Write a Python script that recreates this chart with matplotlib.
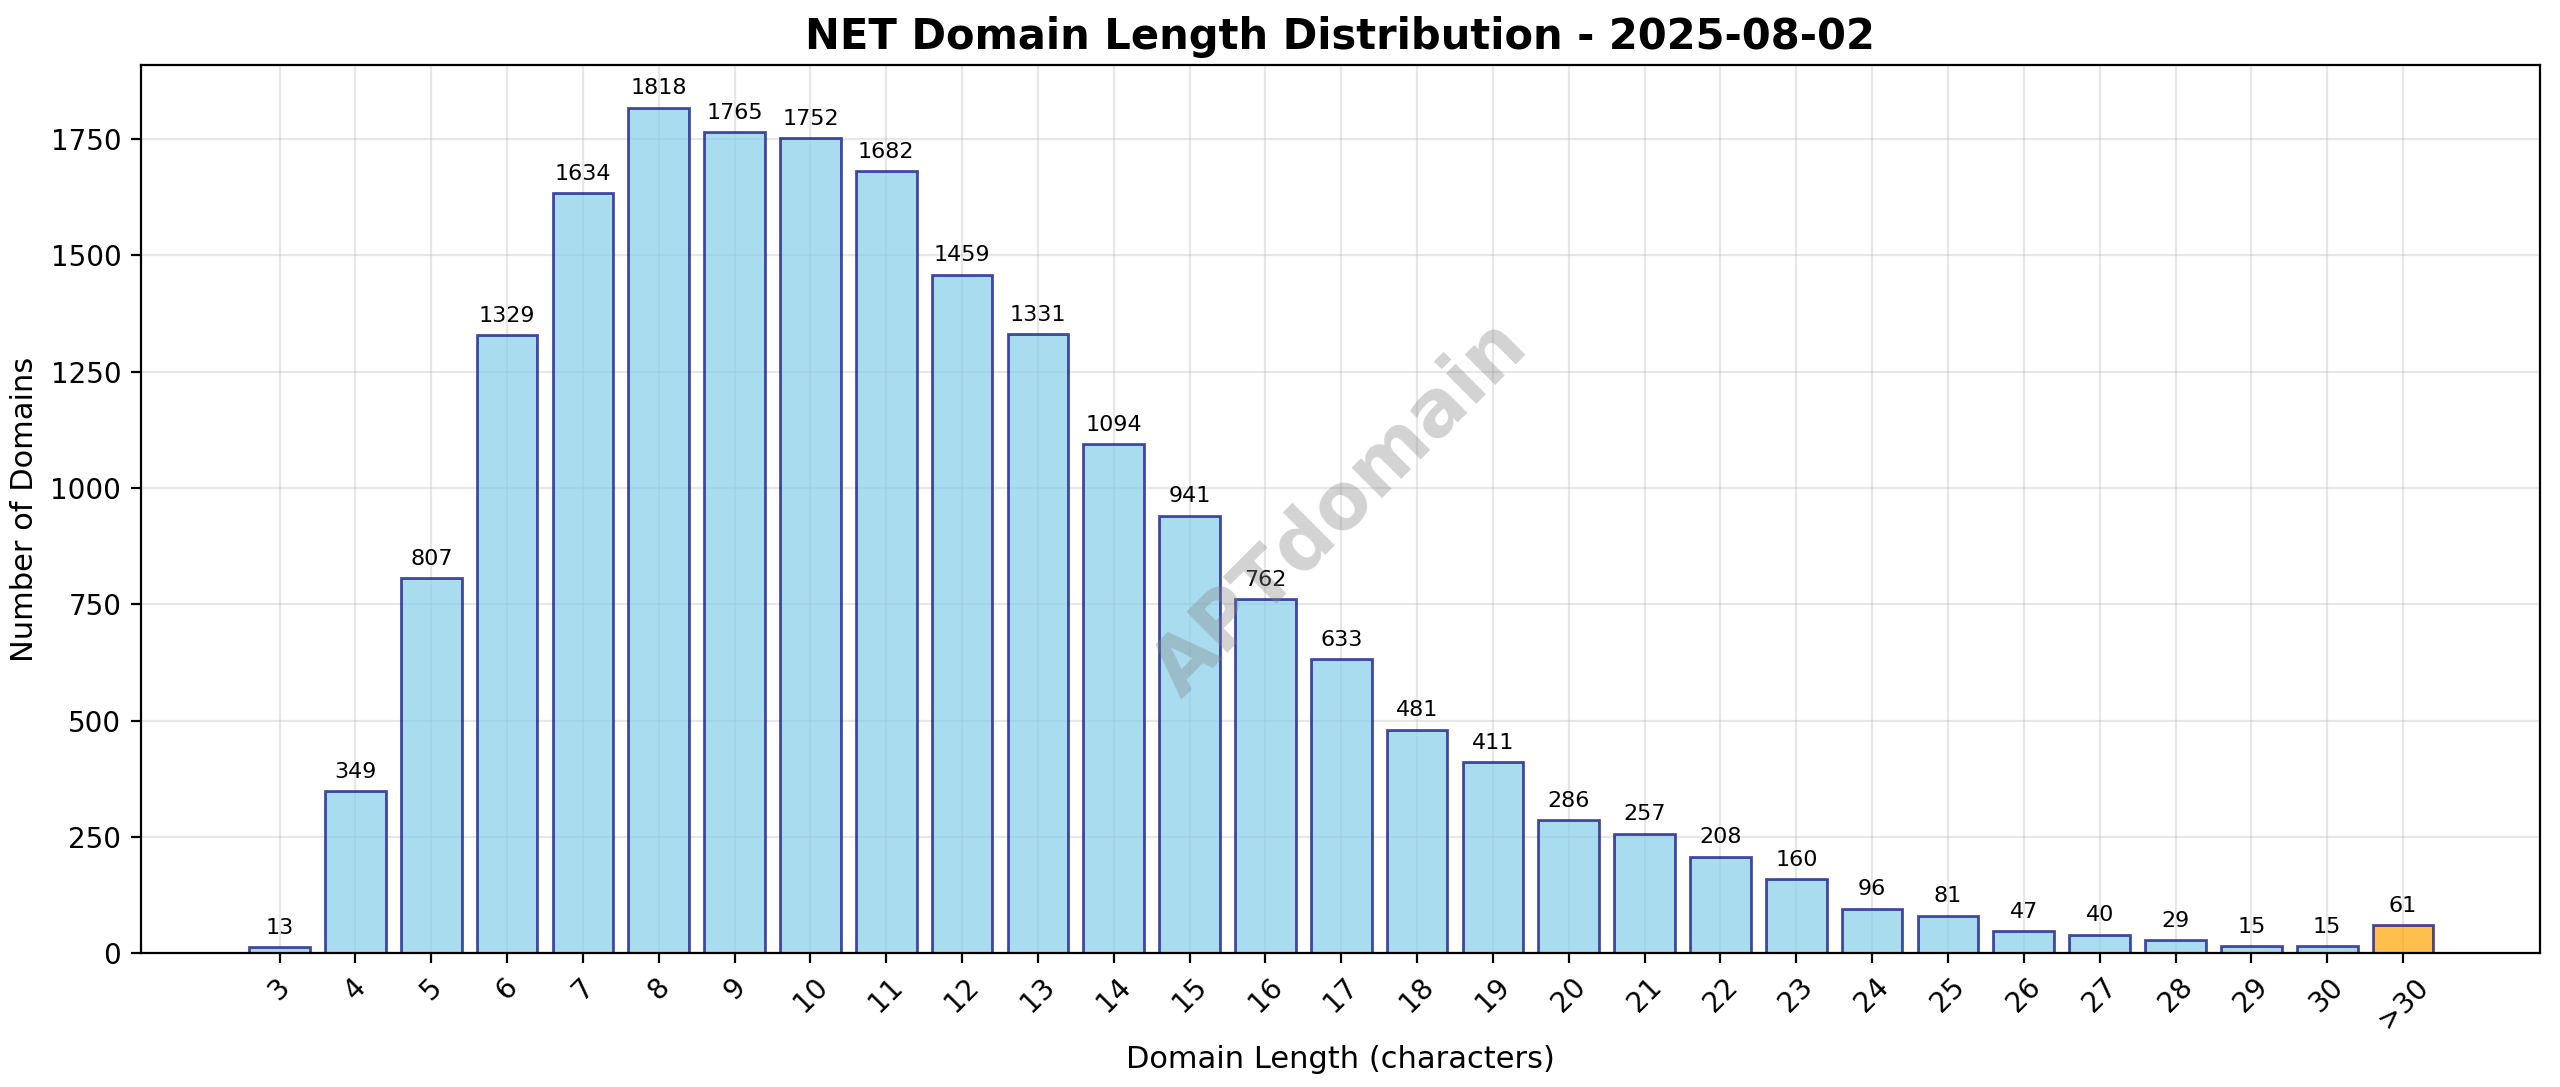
import matplotlib
matplotlib.use("Agg")
import matplotlib.pyplot as plt

lengths = [str(i) for i in range(3, 31)] + [">30"]
counts = [13, 349, 807, 1329, 1634, 1818, 1765, 1752, 1682, 1459, 1331, 1094, 941, 762,
          633, 481, 411, 286, 257, 208, 160, 96, 81, 47, 40, 29, 15, 15, 61]

fig, ax = plt.subplots(figsize=(12.8, 5.435), dpi=200)
fig.subplots_adjust(left=0.055, right=0.992, top=0.94, bottom=0.123)
pos = list(range(3, 3 + len(lengths)))
colors = ["skyblue"] * (len(lengths) - 1) + ["orange"]
bars = ax.bar(pos, counts, color=colors, edgecolor="navy", alpha=0.7, width=0.8)
for p, c in zip(pos, counts):
    ax.text(p, c + 20, str(c), ha="center", va="bottom", fontsize=8)
ax.set_xticks(pos)
ax.set_xticklabels(lengths, rotation=45)
ax.set_xlim(1.17, 32.8)
ax.set_ylim(0, 1909)
ax.grid(True, alpha=0.3)
ax.set_axisbelow(True)
ax.set_xlabel("Domain Length (characters)", fontsize=11)
ax.set_ylabel("Number of Domains", fontsize=11)
ax.set_title("NET Domain Length Distribution - 2025-08-02", fontsize=15, fontweight="bold")
ax.text(0.5, 0.5, "APTdomain", transform=ax.transAxes, fontsize=28, color="gray",
        alpha=0.35, rotation=45, ha="center", va="center", fontweight="bold")
fig.savefig("out.png")
